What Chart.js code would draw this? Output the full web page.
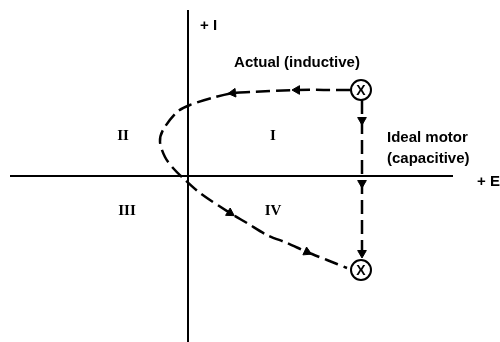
<!DOCTYPE html>
<html>
<head>
<meta charset="utf-8">
<script src="https://cdn.jsdelivr.net/npm/chart.js@4"></script>
<style>
  html, body { margin: 0; padding: 0; background: #fff; }
  #wrap { width: 500px; height: 342px; }
</style>
</head>
<body>
<div id="wrap"><canvas id="diagram"></canvas></div>
<script>
// Axis extents (E horizontal, I vertical)
const eAxis = [-17.8, 26.5];
const iAxis = [16.6, -16.6];

// Actual (inductive) path, from the upper X round through the origin to the lower X
const curveE = [16.2, 10.9, 6.2, 4.5, 2.4, 0.2, -1.1, -2.5, -2.8, -2.3, -1.5, -0.5, 1.2, 4.2, 5.9, 7.9, 9.9, 11.9, 13.9, 15.9];
const curveI = [8.6, 8.6, 8.4, 8.3, 7.8, 7.1, 6.4, 4.6, 3.4, 1.9, 0.8, -0.2, -1.7, -3.7, -4.7, -5.9, -6.7, -7.6, -8.4, -9.2];

// Ideal motor (capacitive) path
const idealE = [17.4, 17.4];
const idealI = [7.6, -8.4];

// Operating points
const markerE = [17.3, 17.3];
const markerI = [8.6, -9.4];

// Arrow heads and their direction (degrees clockwise from up)
const arrowE = [10.9, 4.5, 4.2, 11.9, 17.4, 17.4, 17.4];
const arrowI = [8.6, 8.3, -3.7, -7.6, 5.6, -0.7, -7.7];
const arrowDir = [270, 264, 122, 115, 180, 180, 180];

const zip = (xs, ys) => xs.map((x, k) => ({ x: x, y: ys[k] }));

const sans = '15px "Liberation Sans", Arial, sans-serif';
const serif = 'bold 15px "Liberation Serif", serif';

// Texts placed in data coordinates
const notes = [
  { text: '+ I', x: 1.2, y: 15.1, align: 'left', font: 'bold ' + sans },
  { text: 'Actual (inductive)', x: 10.9, y: 11.4, align: 'center', font: 'bold ' + sans },
  { text: 'Ideal motor', x: 19.9, y: 3.9, align: 'left', font: 'bold ' + sans },
  { text: '(capacitive)', x: 19.9, y: 1.8, align: 'left', font: 'bold ' + sans },
  { text: '+ E', x: 28.9, y: -0.5, align: 'left', font: 'bold ' + sans },
  { text: 'II', x: -6.5, y: 4.1, align: 'center', font: serif },
  { text: 'I', x: 8.5, y: 4.1, align: 'center', font: serif },
  { text: 'III', x: -6.1, y: -3.4, align: 'center', font: serif },
  { text: 'IV', x: 8.5, y: -3.4, align: 'center', font: serif },
  { text: 'X', x: markerE[0], y: markerI[0], align: 'center', font: 'bold 14px "Liberation Sans", sans-serif' },
  { text: 'X', x: markerE[1], y: markerI[1], align: 'center', font: 'bold 14px "Liberation Sans", sans-serif' }
];

const notePlugin = {
  id: 'notes',
  afterDatasetsDraw(chart) {
    const ctx = chart.ctx;
    const xs = chart.scales.x, ys = chart.scales.y;
    ctx.save();
    ctx.fillStyle = '#000';
    ctx.textBaseline = 'middle';
    notes.forEach(n => {
      ctx.font = n.font;
      ctx.textAlign = n.align;
      ctx.fillText(n.text, xs.getPixelForValue(n.x), ys.getPixelForValue(n.y) + 1);
    });
    ctx.restore();
  }
};

document.addEventListener('DOMContentLoaded', function () {
  new Chart(document.getElementById('diagram'), {
    type: 'scatter',
    data: {
      datasets: [
        {
          // X circles
          data: zip(markerE, markerI),
          showLine: false,
          pointRadius: 10,
          pointBorderWidth: 2,
          pointBackgroundColor: '#fff',
          pointBorderColor: '#000',
          order: 0
        },
        {
          // arrow heads
          data: zip(arrowE, arrowI),
          showLine: false,
          pointStyle: 'triangle',
          pointRadius: 5,
          pointRotation: arrowDir,
          pointBackgroundColor: '#000',
          pointBorderColor: '#000',
          pointBorderWidth: 1,
          order: 1
        },
        {
          // actual curve
          data: zip(curveE, curveI),
          showLine: true,
          tension: 0.3,
          borderColor: '#000',
          borderWidth: 2.5,
          borderDash: [14, 6],
          pointRadius: 0,
          order: 2
        },
        {
          // ideal path
          data: zip(idealE, idealI),
          showLine: true,
          borderColor: '#000',
          borderWidth: 2.5,
          borderDash: [14, 6],
          pointRadius: 0,
          order: 2
        },
        {
          // E axis
          data: zip(eAxis, [0, 0]),
          showLine: true,
          borderColor: '#000',
          borderWidth: 2,
          pointRadius: 0,
          order: 3
        },
        {
          // I axis
          data: zip([0, 0], iAxis),
          showLine: true,
          borderColor: '#000',
          borderWidth: 2,
          pointRadius: 0,
          order: 3
        }
      ]
    },
    options: {
      responsive: true,
      maintainAspectRatio: false,
      animation: false,
      layout: { padding: 0, autoPadding: false },
      scales: {
        x: { type: 'linear', min: -18.8, max: 31.2, display: false },
        y: { type: 'linear', min: -16.6, max: 17.6, display: false }
      },
      plugins: {
        legend: { display: false },
        tooltip: { enabled: false }
      }
    },
    plugins: [notePlugin]
  });
});
</script>
</body>
</html>
